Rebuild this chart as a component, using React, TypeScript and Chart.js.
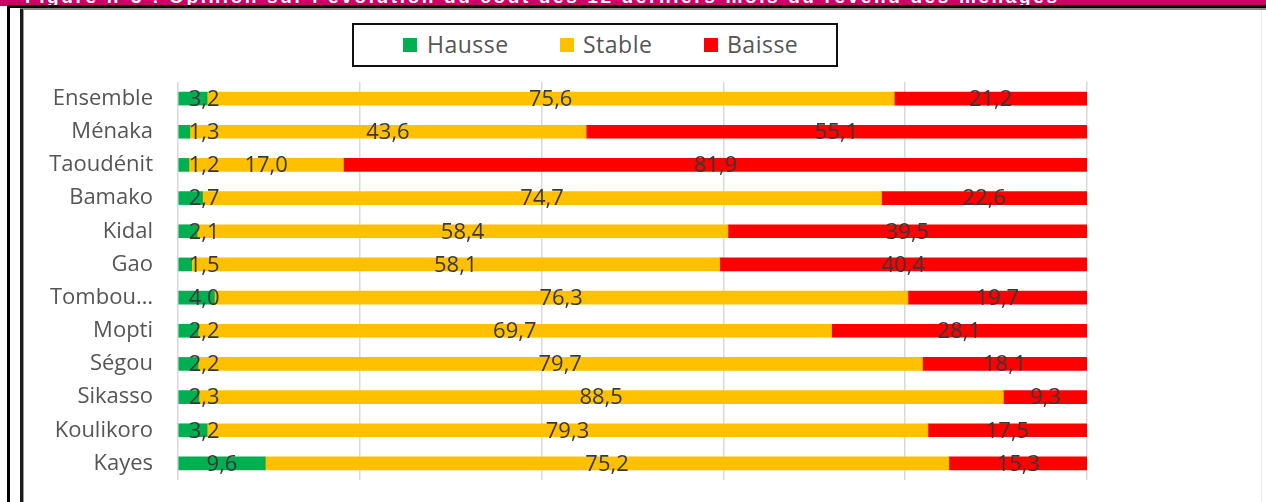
import React, { useEffect, useRef } from "react";
import { Chart, registerables } from "chart.js";

Chart.register(...registerables);

const categories = [
  "Ensemble",
  "Ménaka",
  "Taoudénit",
  "Bamako",
  "Kidal",
  "Gao",
  "Tombou…",
  "Mopti",
  "Ségou",
  "Sikasso",
  "Koulikoro",
  "Kayes",
];
const hausse = [3.2, 1.3, 1.2, 2.7, 2.1, 1.5, 4.0, 2.2, 2.2, 2.3, 3.2, 9.6];
const stable = [75.6, 43.6, 17.0, 74.7, 58.4, 58.1, 76.3, 69.7, 79.7, 88.5, 79.3, 75.2];
const baisse = [21.2, 55.1, 81.9, 22.6, 39.5, 40.4, 19.7, 28.1, 18.1, 9.3, 17.5, 15.3];
const seriesNames = ["Hausse", "Stable", "Baisse"];
const seriesColors = ["#00B050", "#FFC000", "#FF0000"];
const xTicks = [0, 20, 40, 60, 80, 100];
const titleText =
  "Figure n°3 : Opinion sur l’évolution du coût des 12 derniers mois du revenu des ménages";

const FONT = "'Open Sans', 'DejaVu Sans', sans-serif";

const dataLabelPlugin = {
  id: "segmentLabels",
  afterDatasetsDraw(chart: any) {
    const ctx = chart.ctx;
    ctx.save();
    ctx.font = `22px ${FONT}`;
    ctx.fillStyle = "#383838";
    ctx.textAlign = "center";
    ctx.textBaseline = "middle";
    chart.data.datasets.forEach((ds: any, di: number) => {
      const meta = chart.getDatasetMeta(di);
      meta.data.forEach((el: any, i: number) => {
        const v = ds.data[i];
        const txt = v.toFixed(1).replace(".", ",");
        const w = ctx.measureText(txt).width;
        const start = Math.min(el.base, el.x);
        const center = (el.base + el.x) / 2;
        const x = Math.max(center, start + 10 + w / 2);
        ctx.fillText(txt, x, el.y + 1);
      });
    });
    ctx.restore();
  },
};

function BarChart() {
  const ref = useRef<HTMLCanvasElement | null>(null);
  useEffect(() => {
    if (!ref.current) return;
    const data = [hausse, stable, baisse];
    const chart = new Chart(ref.current, {
      type: "bar",
      data: {
        labels: categories,
        datasets: seriesNames.map((name, k) => ({
          label: name,
          data: data[k],
          backgroundColor: seriesColors[k],
          borderWidth: 0,
          barThickness: 13,
        })),
      },
      options: {
        indexAxis: "y",
        animation: false,
        responsive: false,
        maintainAspectRatio: false,
        layout: { padding: { left: 0, right: 173, top: 12, bottom: 10 } },
        plugins: {
          legend: { display: false },
          tooltip: { enabled: false },
        },
        scales: {
          x: {
            stacked: true,
            min: 0,
            max: 100,
            afterBuildTicks: (scale: any) => {
              scale.ticks = xTicks.map((v) => ({ value: v }));
            },
            ticks: { display: false },
            grid: { color: "#d9d9d9", lineWidth: 1.5, drawTicks: false },
            border: { display: false },
            afterFit: (scale: any) => {
              scale.height = 0;
              scale.paddingLeft = 0;
              scale.paddingRight = 0;
            },
          },
          y: {
            stacked: true,
            grid: { display: false, drawTicks: false },
            border: { display: false },
            ticks: {
              padding: 25,
              color: "#555",
              font: { family: FONT, size: 22 },
            },
            afterFit: (scale: any) => {
              scale.width = 154;
              scale.paddingTop = 0;
              scale.paddingBottom = 0;
            },
          },
        },
      },
      plugins: [dataLabelPlugin],
    });
    return () => chart.destroy();
  }, []);
  return <canvas ref={ref} width={1236} height={420} style={{ display: "block" }} />;
}

export default function App() {
  const abs = (s: React.CSSProperties): React.CSSProperties => ({ position: "absolute", ...s });
  const legendItems = [
    { x: 49, tx: 73 },
    { x: 206, tx: 229 },
    { x: 350, tx: 373 },
  ];
  return (
    <div style={abs({ left: 0, top: 0, width: 1266, height: 502, background: "#fff", overflow: "hidden" })}>
      <div style={abs({ left: 0, top: 0, width: 1266, height: 6, background: "#CE0067", overflow: "hidden" })}>
        <svg width={1266} height={6} style={{ display: "block" }}>
          <text
            x={25}
            y={2.5}
            fill="#fff"
            fontFamily="'Liberation Sans', sans-serif"
            fontWeight="bold"
            fontSize={19}
            textLength={1032}
            lengthAdjust="spacing"
          >
            {titleText}
          </text>
        </svg>
      </div>
      <div style={abs({ left: 7, top: 5, width: 1259, height: 3, background: "#000" })} />
      <div style={abs({ left: 20, top: 8, width: 1246, height: 2, background: "#8a8a8a" })} />
      <div style={abs({ left: 7, top: 6, width: 3, height: 496, background: "#000" })} />
      <div style={abs({ left: 20, top: 9, width: 3, height: 493, background: "#1a1a1a" })} />
      <div style={abs({ left: 23, top: 9, width: 1, height: 493, background: "#9a9a9a" })} />
      <div style={abs({ left: 1261, top: 10, width: 1, height: 492, background: "#ececec" })} />

      <div style={abs({ left: 24, top: 70, width: 1236, height: 420 })}>
        <BarChart />
      </div>

      <div
        style={abs({
          left: 352,
          top: 23,
          width: 486,
          height: 44,
          border: "2px solid #111",
          boxSizing: "border-box",
        })}
      >
        {seriesNames.map((name, k) => (
          <React.Fragment key={name}>
            <div style={abs({ left: legendItems[k].x, top: 13, width: 14, height: 14, background: seriesColors[k] })} />
            <span
              style={abs({
                left: legendItems[k].tx,
                top: 8,
                fontFamily: FONT,
                fontSize: 23,
                lineHeight: "23px",
                color: "#555",
                letterSpacing: "0.5px",
                whiteSpace: "nowrap",
              })}
            >
              {name}
            </span>
          </React.Fragment>
        ))}
      </div>
    </div>
  );
}
